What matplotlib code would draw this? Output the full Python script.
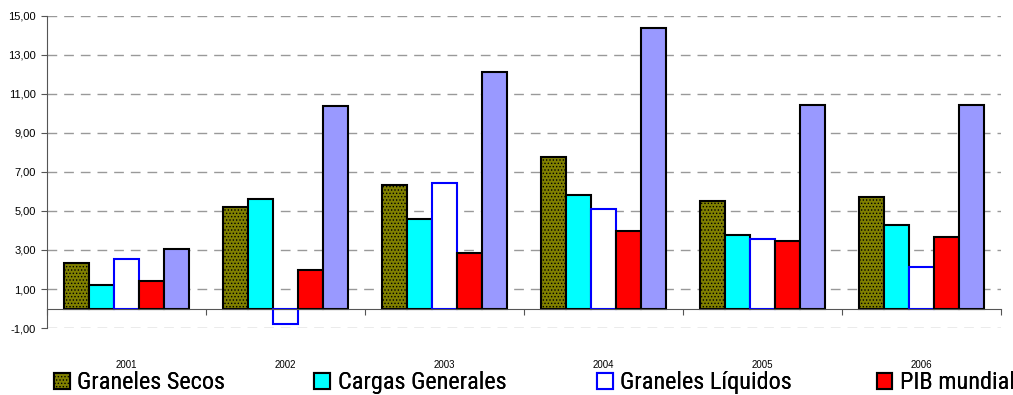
import numpy as np
import matplotlib
matplotlib.use('Agg')
import matplotlib.pyplot as plt
from matplotlib.patches import Patch

years = ['2001', '2002', '2003', '2004', '2005', '2006']
graneles_secos = [2.33, 5.20, 6.33, 7.77, 5.51, 5.72]
cargas_generales = [1.20, 5.60, 4.59, 5.82, 3.77, 4.28]
graneles_liquidos = [2.54, -0.79, 6.44, 5.10, 3.56, 2.13]
pib_mundial = [1.41, 1.97, 2.85, 3.97, 3.46, 3.67]
comercio_mundial = [3.05, 10.38, 12.13, 14.38, 10.44, 10.44]

series_names = ['Graneles Secos', 'Cargas Generales', 'Graneles Líquidos', 'PIB mundial']
yticks = [-1, 1, 3, 5, 7, 9, 11, 13, 15]

plt.rcParams['font.family'] = ['Liberation Sans', 'DejaVu Sans']
plt.rcParams['hatch.linewidth'] = 0.6


def fmt(v):
    return ('%.2f' % v).replace('.', ',')


def RUN():
    fig = plt.figure(figsize=(10.13, 3.95), dpi=100)
    ax = fig.add_axes([0.0464, 0.1696, 0.9418, 0.79])

    x = np.arange(len(years))
    w = 0.157
    styles = [
        dict(facecolor='#808000', edgecolor='black', hatch='.....'),
        dict(facecolor='#00FFFF', edgecolor='black'),
        dict(facecolor='white', edgecolor='#0000FF'),
        dict(facecolor='#FF0000', edgecolor='black'),
        dict(facecolor='#9999FF', edgecolor='black'),
    ]
    data = [graneles_secos, cargas_generales, graneles_liquidos, pib_mundial, comercio_mundial]
    for k in range(5):
        ax.bar(x + (k - 2) * w, data[k], w, linewidth=1.5, zorder=3, **styles[k])

    ax.set_xlim(-0.5, len(years) - 0.5)
    ax.set_ylim(-1, 15)
    ax.set_yticks(yticks)
    ax.set_yticklabels([fmt(v) for v in yticks], fontsize=8)
    ax.yaxis.grid(True, color='#999999', linestyle=(0, (7, 5)), linewidth=1, zorder=0)
    ax.tick_params(axis='y', direction='out', length=4, color='#555555', pad=4)

    for s in ['top', 'right']:
        ax.spines[s].set_visible(False)
    ax.spines['left'].set_color('#555555')
    ax.spines['bottom'].set_position(('data', 0))
    ax.spines['bottom'].set_color('#555555')
    ax.spines['bottom'].set_zorder(4)
    ax.set_xticks(np.arange(len(years) + 1) - 0.5)
    ax.set_xticklabels([])
    ax.tick_params(axis='x', direction='out', length=4, color='#555555')

    for i, yr in enumerate(years):
        ax.text(i, -0.119, yr, transform=ax.get_xaxis_transform(), ha='center', va='center', fontsize=7)

    # one legend per entry so each sits at its own spot along the bottom
    lx = [0.051, 0.308, 0.587, 0.863]
    for k in range(4):
        h = Patch(linewidth=1.5, **styles[k])
        leg = fig.legend([h], [series_names[k]], loc='lower left', bbox_to_anchor=(lx[k], -0.004),
                         frameon=False, borderpad=0.1, borderaxespad=0,
                         prop={'family': ['Roboto Condensed', 'Liberation Sans'], 'size': 17.5},
                         handlelength=0.65, handleheight=0.65, handletextpad=0.3)
        fig.add_artist(leg)

    fig.savefig('out.png', dpi=100)


if __name__ == '__main__':
    RUN()
